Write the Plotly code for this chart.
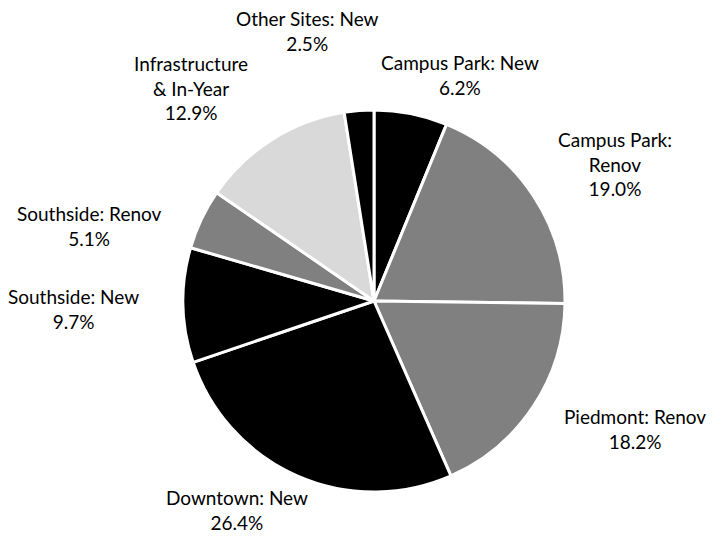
import plotly.graph_objects as go

# Data
categories = ["Campus Park: New", "Campus Park: Renov", "Piedmont: Renov", "Downtown: New",
              "Southside: New", "Southside: Renov", "Infrastructure & In-Year", "Other Sites: New"]
shares = [6.2, 19.0, 18.2, 26.4, 9.7, 5.1, 12.9, 2.5]
label_text = ["Campus Park: New", "Campus Park:<br>Renov", "Piedmont: Renov", "Downtown: New",
              "Southside: New", "Southside: Renov", "Infrastructure<br>& In-Year", "Other Sites: New"]

# Styles
colors = ["#000000", "#808080", "#808080", "#000000", "#000000", "#808080", "#d9d9d9", "#000000"]
W, H = 721, 541
label_pos = [(460, 75), (615, 164), (635, 429), (237, 510), (73, 309), (89, 226), (191, 88), (307, 31)]
FONT = "Lato"

fig = go.Figure(go.Pie(
    labels=categories, values=shares, sort=False, direction="clockwise", rotation=0,
    marker=dict(colors=colors, line=dict(color="white", width=3)),
    textinfo="none", hoverinfo="label+percent", showlegend=False,
    domain=dict(x=[183 / W, 565 / W], y=[(H - 492) / H, (H - 110) / H]),
))

for txt, v, (px, py) in zip(label_text, shares, label_pos):
    fig.add_annotation(text=f"{txt}<br>{v:.1f}%", x=px / W, y=1 - py / H, xref="paper", yref="paper",
                       xanchor="center", yanchor="middle", showarrow=False, align="center",
                       font=dict(family=FONT, size=19, color="black"))

fig.update_layout(width=W, height=H, margin=dict(l=0, r=0, t=0, b=0),
                  paper_bgcolor="white", plot_bgcolor="white")
fig.write_html("out.html", config={"displayModeBar": False},
               post_script="document.body.style.margin='0';")
